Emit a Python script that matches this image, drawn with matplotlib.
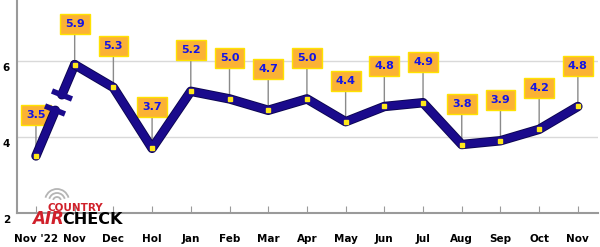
import matplotlib
matplotlib.use("Agg")
import matplotlib.pyplot as plt
import matplotlib.patheffects as pe
from matplotlib.markers import MarkerStyle
from matplotlib.transforms import Affine2D, offset_copy
from matplotlib.patches import Arc
import numpy as np

# data
months = ["Nov '22", "Nov", "Dec", "Hol", "Jan", "Feb", "Mar", "Apr",
          "May", "Jun", "Jul", "Aug", "Sep", "Oct", "Nov"]
values = [3.5, 5.9, 5.3, 3.7, 5.2, 5.0, 4.7, 5.0, 4.4, 4.8, 4.9, 3.8, 3.9, 4.2, 4.8]
yticks = [2, 4, 6]

W, H = 600, 247
fig = plt.figure(figsize=(W / 100, H / 100), dpi=100)
ax = fig.add_axes([17 / W, 34 / H, 581 / W, 213 / H])
ax.set_xlim(-0.49, 14.52)
ax.set_ylim(2, 7.6)

x = np.arange(len(values))
navy = "#1a0a8c"

# grid
for yv in yticks[1:]:
    ax.axhline(yv, color="#d9d9d9", lw=1, zorder=0)

# spines / ticks
for s in ["top", "right"]:
    ax.spines[s].set_visible(False)
ax.spines["left"].set_color("#9a9a9a")
ax.spines["bottom"].set_color("#9a9a9a")
ax.spines["left"].set_linewidth(1.5)
ax.spines["bottom"].set_linewidth(1.5)
ax.set_xticks(x)
ax.set_xticklabels(months, fontsize=7.5, fontweight="bold")
ax.tick_params(axis="x", direction="in", length=5, color="#9a9a9a", pad=15)
ax.set_yticks(yticks)
ax.set_yticklabels([str(v) for v in yticks], fontsize=7.5, fontweight="bold")
ax.tick_params(axis="y", length=0, pad=5)
for lab in ax.get_yticklabels():
    lab.set_transform(offset_copy(lab.get_transform(), fig=fig, x=0, y=-6, units="dots"))

line_kw = dict(color=navy, lw=5.5, solid_capstyle="round", zorder=3,
               path_effects=[pe.Stroke(linewidth=6.8, foreground="#0c0550"), pe.Normal()])

# broken first segment
a = np.array([x[0], values[0]])
b = np.array([x[1], values[1]])
p1 = a + 0.50 * (b - a)
p2 = a + 0.67 * (b - a)
ax.plot([a[0], p1[0]], [a[1], p1[1]], **line_kw)
ax.plot([p2[0], b[0]], [p2[1], b[1]], **line_kw)
ax.plot(x[1:], values[1:], **line_kw)

# break bars perpendicular to segment
da = ax.transData.transform(a)
db = ax.transData.transform(b)
ang = np.degrees(np.arctan2(db[1] - da[1], db[0] - da[0])) - 90
for p in (p1, p2):
    ax.plot(p[0], p[1], marker=MarkerStyle("_", transform=Affine2D().rotate_deg(ang)),
            ms=15, mew=4, color=navy, zorder=4)

# markers
ax.plot(x, values, ls="none", marker="s", ms=3.2, mfc="#ffe81a", mec="#ffe81a", zorder=5)

# labels
for xi, v in zip(x, values):
    ax.annotate(f"{v:.1f}", xy=(xi, v), xytext=(0, 41), textcoords="offset pixels",
                ha="center", va="center", fontsize=8, fontweight="bold", color="#1414e6",
                bbox=dict(boxstyle="square,pad=0.45", fc="#fbb234", ec="#ffe200", lw=1),
                arrowprops=dict(arrowstyle="-", color="#8a8a8a", lw=1, shrinkA=0, shrinkB=3),
                zorder=2)

# logo
def px(xp, yp):
    return xp / W, 1 - yp / H

cx, cy = px(57, 201)
for r in (4, 8, 12):
    fig.add_artist(Arc((cx, cy), 2 * r / W, 2 * r / H, theta1=35, theta2=145,
                       color="#b5b5b5", lw=1.3, transform=fig.transFigure))
fig.text(*px(75, 208), "COUNTRY", color="#d0202a", fontsize=7.5, fontweight="bold",
         ha="center", va="center")
fig.text(*px(32, 219), "AIR", color="#d0202a", fontsize=12, fontweight="heavy",
         ha="left", va="center", style="italic")
fig.text(*px(62, 219), "CHECK", color="black", fontsize=11.5, fontweight="heavy",
         ha="left", va="center")

fig.savefig("out.png", dpi=100)
